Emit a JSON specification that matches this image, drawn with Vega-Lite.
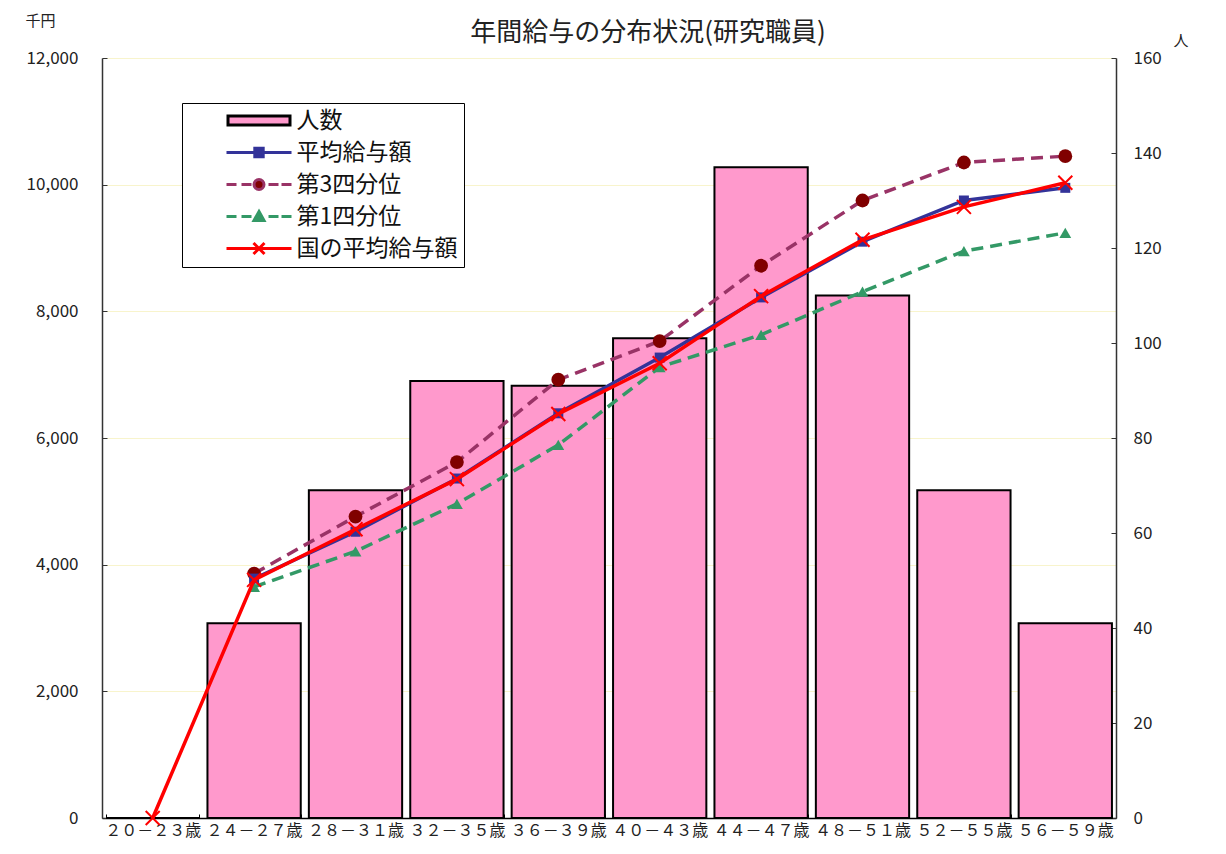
{
  "$schema": "https://vega.github.io/schema/vega-lite/v6.json",
  "width": 1014,
  "height": 760,
  "autosize": {"type": "none"},
  "padding": {"left": 102, "top": 58, "right": 110, "bottom": 36},
  "background": "white",
  "title": {"text": "年間給与の分布状況(研究職員)", "font": "Noto Sans CJK JP", "fontSize": 26, "fontWeight": "normal", "color": "#222222", "anchor": "middle", "dx": 39, "offset": -33},
  "datasets": {
    "bars": [
      {"age": "２０－２３歳", "count": 0},
      {"age": "２４－２７歳", "count": 41},
      {"age": "２８－３１歳", "count": 69},
      {"age": "３２－３５歳", "count": 92},
      {"age": "３６－３９歳", "count": 91},
      {"age": "４０－４３歳", "count": 101},
      {"age": "４４－４７歳", "count": 137},
      {"age": "４８－５１歳", "count": 110},
      {"age": "５２－５５歳", "count": 69},
      {"age": "５６－５９歳", "count": 41}
    ],
    "lines": [
      {"series": "平均給与額", "age": "２４－２７歳", "value": 3780},
      {"series": "平均給与額", "age": "２８－３１歳", "value": 4520},
      {"series": "平均給与額", "age": "３２－３５歳", "value": 5360},
      {"series": "平均給与額", "age": "３６－３９歳", "value": 6390},
      {"series": "平均給与額", "age": "４０－４３歳", "value": 7270},
      {"series": "平均給与額", "age": "４４－４７歳", "value": 8220},
      {"series": "平均給与額", "age": "４８－５１歳", "value": 9100},
      {"series": "平均給与額", "age": "５２－５５歳", "value": 9750},
      {"series": "平均給与額", "age": "５６－５９歳", "value": 9950},
      {"series": "第3四分位", "age": "２４－２７歳", "value": 3860},
      {"series": "第3四分位", "age": "２８－３１歳", "value": 4760},
      {"series": "第3四分位", "age": "３２－３５歳", "value": 5620},
      {"series": "第3四分位", "age": "３６－３９歳", "value": 6920},
      {"series": "第3四分位", "age": "４０－４３歳", "value": 7530},
      {"series": "第3四分位", "age": "４４－４７歳", "value": 8720},
      {"series": "第3四分位", "age": "４８－５１歳", "value": 9750},
      {"series": "第3四分位", "age": "５２－５５歳", "value": 10350},
      {"series": "第3四分位", "age": "５６－５９歳", "value": 10450},
      {"series": "第1四分位", "age": "２４－２７歳", "value": 3650},
      {"series": "第1四分位", "age": "２８－３１歳", "value": 4210},
      {"series": "第1四分位", "age": "３２－３５歳", "value": 4960},
      {"series": "第1四分位", "age": "３６－３９歳", "value": 5890},
      {"series": "第1四分位", "age": "４０－４３歳", "value": 7120},
      {"series": "第1四分位", "age": "４４－４７歳", "value": 7630},
      {"series": "第1四分位", "age": "４８－５１歳", "value": 8310},
      {"series": "第1四分位", "age": "５２－５５歳", "value": 8950},
      {"series": "第1四分位", "age": "５６－５９歳", "value": 9240},
      {"series": "国の平均給与額", "age": "２０－２３歳", "value": 0},
      {"series": "国の平均給与額", "age": "２４－２７歳", "value": 3760},
      {"series": "国の平均給与額", "age": "２８－３１歳", "value": 4560},
      {"series": "国の平均給与額", "age": "３２－３５歳", "value": 5350},
      {"series": "国の平均給与額", "age": "３６－３９歳", "value": 6380},
      {"series": "国の平均給与額", "age": "４０－４３歳", "value": 7180},
      {"series": "国の平均給与額", "age": "４４－４７歳", "value": 8240},
      {"series": "国の平均給与額", "age": "４８－５１歳", "value": 9130},
      {"series": "国の平均給与額", "age": "５２－５５歳", "value": 9650},
      {"series": "国の平均給与額", "age": "５６－５９歳", "value": 10030}
    ],
    "legendItems": [
      {"legend": "人数"},
      {"legend": "平均給与額"},
      {"legend": "第3四分位"},
      {"legend": "第1四分位"},
      {"legend": "国の平均給与額"}
    ]
  },
  "resolve": {"scale": {"y": "independent"}},
  "layer": [
    {
      "data": {"name": "bars"},
      "mark": {"type": "bar", "fill": "#ff99cc", "stroke": "#000000", "strokeWidth": 2},
      "encoding": {
        "x": {
          "field": "age", "type": "nominal", "sort": null,
          "scale": {"paddingInner": 0.08, "paddingOuter": 0.04},
          "axis": {"title": null, "labelAngle": 0, "labelFont": "Noto Sans CJK JP", "labelFontSize": 16, "labelColor": "#222222", "labelPadding": 8, "domainColor": "#000000", "domainWidth": 1.5, "ticks": true, "tickBand": "extent", "tickSize": -4, "tickColor": "#000000", "grid": false}
        },
        "y": {
          "field": "count", "type": "quantitative",
          "scale": {"domain": [0, 160], "nice": false},
          "axis": {"orient": "right", "values": [0, 20, 40, 60, 80, 100, 120, 140, 160], "title": "人", "titleAngle": 0, "titleX": 57, "titleY": -18, "titleAlign": "left", "titleBaseline": "middle", "titleFont": "Noto Sans CJK JP", "titleFontSize": 15, "titleFontWeight": "normal", "titleColor": "#222222", "labelFont": "Noto Sans CJK JP", "labelFontSize": 17, "labelColor": "#222222", "labelPadding": 22, "domainColor": "#333333", "domainWidth": 1.5, "tickColor": "#333333", "tickSize": -5, "grid": false}
        }
      }
    },
    {
      "data": {"name": "lines"},
      "encoding": {
        "x": {"field": "age", "type": "nominal", "sort": null,
          "axis": {"title": null, "labelAngle": 0, "labelFont": "Noto Sans CJK JP", "labelFontSize": 16, "labelColor": "#222222", "labelPadding": 8, "domainColor": "#000000", "domainWidth": 1.5, "ticks": true, "tickBand": "extent", "tickSize": -4, "tickColor": "#000000", "grid": false}},
        "y": {
          "field": "value", "type": "quantitative",
          "scale": {"domain": [0, 12000], "nice": false},
          "axis": {"orient": "left", "values": [0, 2000, 4000, 6000, 8000, 10000, 12000], "format": ",d", "title": "千円", "titleAngle": 0, "titleX": -77, "titleY": -38, "titleAlign": "left", "titleBaseline": "middle", "titleFont": "Noto Sans CJK JP", "titleFontSize": 15, "titleFontWeight": "normal", "titleColor": "#222222", "labelFont": "Noto Sans CJK JP", "labelFontSize": 17, "labelColor": "#222222", "labelPadding": 29, "domainColor": "#333333", "domainWidth": 1.5, "tickColor": "#333333", "tickSize": -5, "grid": true, "gridColor": "#f8f4cc", "gridWidth": 1}
        }
      },
      "layer": [
        {"transform": [{"filter": "datum.series === '第3四分位'"}], "mark": {"type": "line", "color": "#993366", "strokeWidth": 3.5, "strokeDash": [12, 7]}},
        {"transform": [{"filter": "datum.series === '第3四分位'"}], "mark": {"type": "point", "shape": "circle", "filled": true, "color": "#800000", "opacity": 1, "size": 190}},
        {"transform": [{"filter": "datum.series === '第1四分位'"}], "mark": {"type": "line", "color": "#339966", "strokeWidth": 3.5, "strokeDash": [12, 7]}},
        {"transform": [{"filter": "datum.series === '第1四分位'"}], "mark": {"type": "point", "shape": "triangle-up", "filled": true, "color": "#339966", "opacity": 1, "size": 140}},
        {"transform": [{"filter": "datum.series === '平均給与額'"}], "mark": {"type": "line", "color": "#333399", "strokeWidth": 3.5}},
        {"transform": [{"filter": "datum.series === '平均給与額'"}], "mark": {"type": "point", "shape": "square", "filled": true, "color": "#333399", "opacity": 1, "size": 100}},
        {"transform": [{"filter": "datum.series === '国の平均給与額'"}], "mark": {"type": "line", "color": "#ff0000", "strokeWidth": 3.5}},
        {"transform": [{"filter": "datum.series === '国の平均給与額'"}], "mark": {"type": "point", "shape": "M-1,-1L1,1M-1,1L1,-1", "filled": false, "color": "#ff0000", "strokeWidth": 2, "opacity": 1, "size": 196}}
      ]
    },
    {
      "data": {"name": "legendItems"},
      "mark": {"type": "point", "filled": true, "opacity": 0},
      "encoding": {
        "fill": {"field": "legend", "type": "nominal", "title": null, "sort": null,
          "scale": {"domain": ["人数", "平均給与額", "第3四分位", "第1四分位", "国の平均給与額"], "range": ["#ff99cc", "#333399", "#800000", "#339966", "#ff0000"]}},
        "stroke": {"field": "legend", "type": "nominal", "title": null, "sort": null,
          "scale": {"domain": ["人数", "平均給与額", "第3四分位", "第1四分位", "国の平均給与額"], "range": ["#000000", "#333399", "#993366", "#339966", "#ff0000"]}},
        "shape": {"field": "legend", "type": "nominal", "title": null, "sort": null,
          "scale": {"domain": ["人数", "平均給与額", "第3四分位", "第1四分位", "国の平均給与額"], "range": [
            "M-3.1,-0.45H3.1V0.45H-3.1Z",
            "M-3.25,0H3.25M-0.42,-0.42H0.42V0.42H-0.42Z",
            "M-3.25,0H-2.25M-1.75,0H-0.75M0.95,0H1.95M2.25,0H3.25M0.5,0A0.5,0.5,0,1,1,-0.5,0A0.5,0.5,0,1,1,0.5,0Z",
            "M-3.25,0H-2.25M-1.75,0H-0.75M0.95,0H1.95M2.25,0H3.25M0,-0.5L0.5,0.4H-0.5Z",
            "M-3.25,0H3.25M-0.55,-0.55L0.55,0.55M-0.55,0.55L0.55,-0.55"
          ]}}
      }
    }
  ],
  "config": {
    "view": {"stroke": null},
    "legend": {
      "orient": "none", "legendX": 80, "legendY": 45, "padding": 6,
      "strokeColor": "#000000", "fillColor": "#ffffff",
      "symbolSize": 400, "symbolStrokeWidth": 3, "symbolOpacity": 1,
      "symbolOffset": 59.5, "labelOffset": 26,
      "labelFont": "Noto Sans CJK JP", "labelFontSize": 23, "labelColor": "#111111", "labelLimit": 400,
      "rowPadding": 8
    }
  }
}
